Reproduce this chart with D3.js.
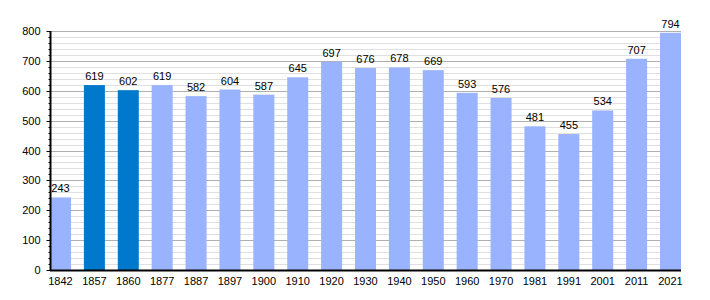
<!DOCTYPE html>
<html>
<head>
<meta charset="utf-8">
<script src="https://cdn.jsdelivr.net/npm/d3@7"></script>
<style>
  body { margin: 0; background: #fff; }
  text { font-family: "Liberation Sans", Arial, sans-serif; font-size: 11px; fill: #000; }
</style>
</head>
<body>
<div id="chart"></div>
<script>
// census years and population
var years = ["1842","1857","1860","1877","1887","1897","1900","1910","1920","1930","1940","1950","1960","1970","1981","1991","2001","2011","2021"];
var population = [243,619,602,619,582,604,587,645,697,676,678,669,593,576,481,455,534,707,794];
var highlighted = ["1857","1860"];
var yTicks = [0,100,200,300,400,500,600,700,800];

var width = 710, height = 300;
var plotLeft = 50, plotRight = 681, plotTop = 31, plotBottom = 270;

var svg = d3.select("#chart").append("svg")
  .attr("width", width)
  .attr("height", height);

var x = d3.scaleBand()
  .domain(years)
  .range([plotLeft, plotRight])
  .paddingInner(0.38)
  .paddingOuter(0);

var y = d3.scaleLinear()
  .domain([0, 800])
  .range([plotBottom, plotTop]);

// minor grid every 20
var minor = d3.range(0, 801, 20).filter(function(v){ return v % 100 != 0; });
svg.selectAll("line.minor")
  .data(minor)
  .enter().append("line")
  .attr("x1", plotLeft).attr("x2", plotRight)
  .attr("y1", function(d){ return Math.round(y(d)) + 0.5; })
  .attr("y2", function(d){ return Math.round(y(d)) + 0.5; })
  .attr("stroke", "#e0e0e0");

svg.selectAll("line.major")
  .data(yTicks.slice(1))
  .enter().append("line")
  .attr("x1", plotLeft).attr("x2", plotRight)
  .attr("y1", function(d){ return Math.round(y(d)) + 0.5; })
  .attr("y2", function(d){ return Math.round(y(d)) + 0.5; })
  .attr("stroke", "#b0b0b0");

// bars
svg.selectAll("rect.bar")
  .data(population)
  .enter().append("rect")
  .attr("x", function(d, i){ return x(years[i]); })
  .attr("y", function(d){ return y(d); })
  .attr("width", x.bandwidth())
  .attr("height", function(d){ return y(0) - y(d); })
  .attr("fill", function(d, i){
    return highlighted.includes(years[i]) ? "#0079cc" : "#99b3ff";
  });

// value labels
svg.selectAll("text.val")
  .data(population)
  .enter().append("text")
  .attr("x", function(d, i){ return x(years[i]) + x.bandwidth() / 2; })
  .attr("y", function(d){ return y(d) - 5; })
  .attr("text-anchor", "middle")
  .text(function(d){ return d; });

// y axis
var ya = svg.append("g").attr("transform", "translate(" + (plotLeft + 0.5) + ",0)");
ya.append("line")
  .attr("x1", 0).attr("x2", 0)
  .attr("y1", plotTop).attr("y2", plotBottom)
  .attr("stroke", "#000").attr("stroke-width", 2);
ya.selectAll("line.tick")
  .data(d3.range(0, 801, 20))
  .enter().append("line")
  .attr("x1", function(d){ return d % 100 == 0 ? -4 : -2; })
  .attr("x2", 0)
  .attr("y1", function(d){ return Math.round(y(d)) + 0.5; })
  .attr("y2", function(d){ return Math.round(y(d)) + 0.5; })
  .attr("stroke", "#000");
ya.selectAll("text.tl")
  .data(yTicks)
  .enter().append("text")
  .attr("x", -10)
  .attr("y", function(d){ return y(d) + 4; })
  .attr("text-anchor", "end")
  .text(function(d){ return d; });

// x axis
svg.append("line")
  .attr("x1", plotLeft).attr("x2", plotRight)
  .attr("y1", plotBottom + 0.5).attr("y2", plotBottom + 0.5)
  .attr("stroke", "#000").attr("stroke-width", 2);
svg.selectAll("text.xl")
  .data(years)
  .enter().append("text")
  .attr("x", function(d){ return x(d) + x.bandwidth() / 2; })
  .attr("y", 285)
  .attr("text-anchor", "middle")
  .text(function(d){ return d; });
</script>
</body>
</html>
